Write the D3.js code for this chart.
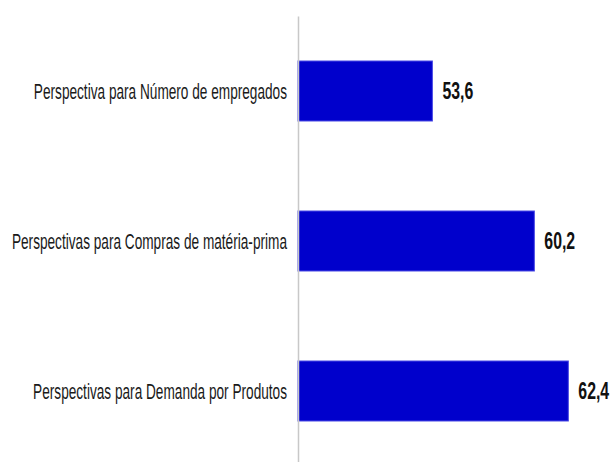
<!DOCTYPE html>
<html>
<head>
<meta charset="utf-8">
<script src="https://cdn.jsdelivr.net/npm/d3@7"></script>
<style>
  html, body { margin: 0; padding: 0; background: #fff; }
  svg { display: block; }
</style>
</head>
<body>
<script>
const categories = [
  "Perspectiva para Número de empregados",
  "Perspectivas para Compras de matéria-prima",
  "Perspectivas para Demanda por Produtos"
];
const values = [53.6, 60.2, 62.4];
const valueLabels = ["53,6", "60,2", "62,4"];
const xDomain = [44.9, 65];

const W = 612, H = 462;
const svg = d3.select("body").append("svg").attr("width", W).attr("height", H);

const x = d3.scaleLinear().domain(xDomain).range([298, 608.5]);
const y = d3.scaleBand().domain(categories).range([16, 466]).paddingInner(0.6).paddingOuter(0.3);

// bars
svg.append("g").selectAll("rect").data(categories).join("rect")
  .attr("x", x(xDomain[0]))
  .attr("y", d => y(d))
  .attr("width", (d, i) => x(values[i]) - x(xDomain[0]))
  .attr("height", y.bandwidth())
  .attr("fill", "#0000cc")
  .attr("stroke", "#4a4ae6")
  .attr("stroke-width", 1);

// axis
const axis = svg.append("g")
  .attr("transform", `translate(${x(xDomain[0])},0)`)
  .call(d3.axisLeft(y).tickSize(0).tickPadding(11));
axis.select(".domain").attr("stroke", "#c8c8c8").attr("stroke-width", 1.5);
axis.selectAll(".tick text")
  .attr("x", null)
  .attr("dy", "0.35em")
  .attr("transform", `translate(-11,0) scale(0.62,1)`)
  .attr("font-family", "Liberation Sans, Arial, sans-serif")
  .attr("font-size", 22)
  .attr("fill", "#1a1a1a")
  .attr("text-anchor", "end");

// value labels
svg.append("g").selectAll("text").data(categories).join("text")
  .attr("transform", (d, i) => `translate(${x(values[i]) + 10},${y(d) + y.bandwidth() / 2}) scale(0.66,1)`)
  .attr("dy", "0.35em")
  .attr("font-family", "Liberation Sans, Arial, sans-serif")
  .attr("font-weight", "bold")
  .attr("font-size", 24)
  .attr("fill", "#111")
  .text((d, i) => valueLabels[i]);
</script>
</body>
</html>
